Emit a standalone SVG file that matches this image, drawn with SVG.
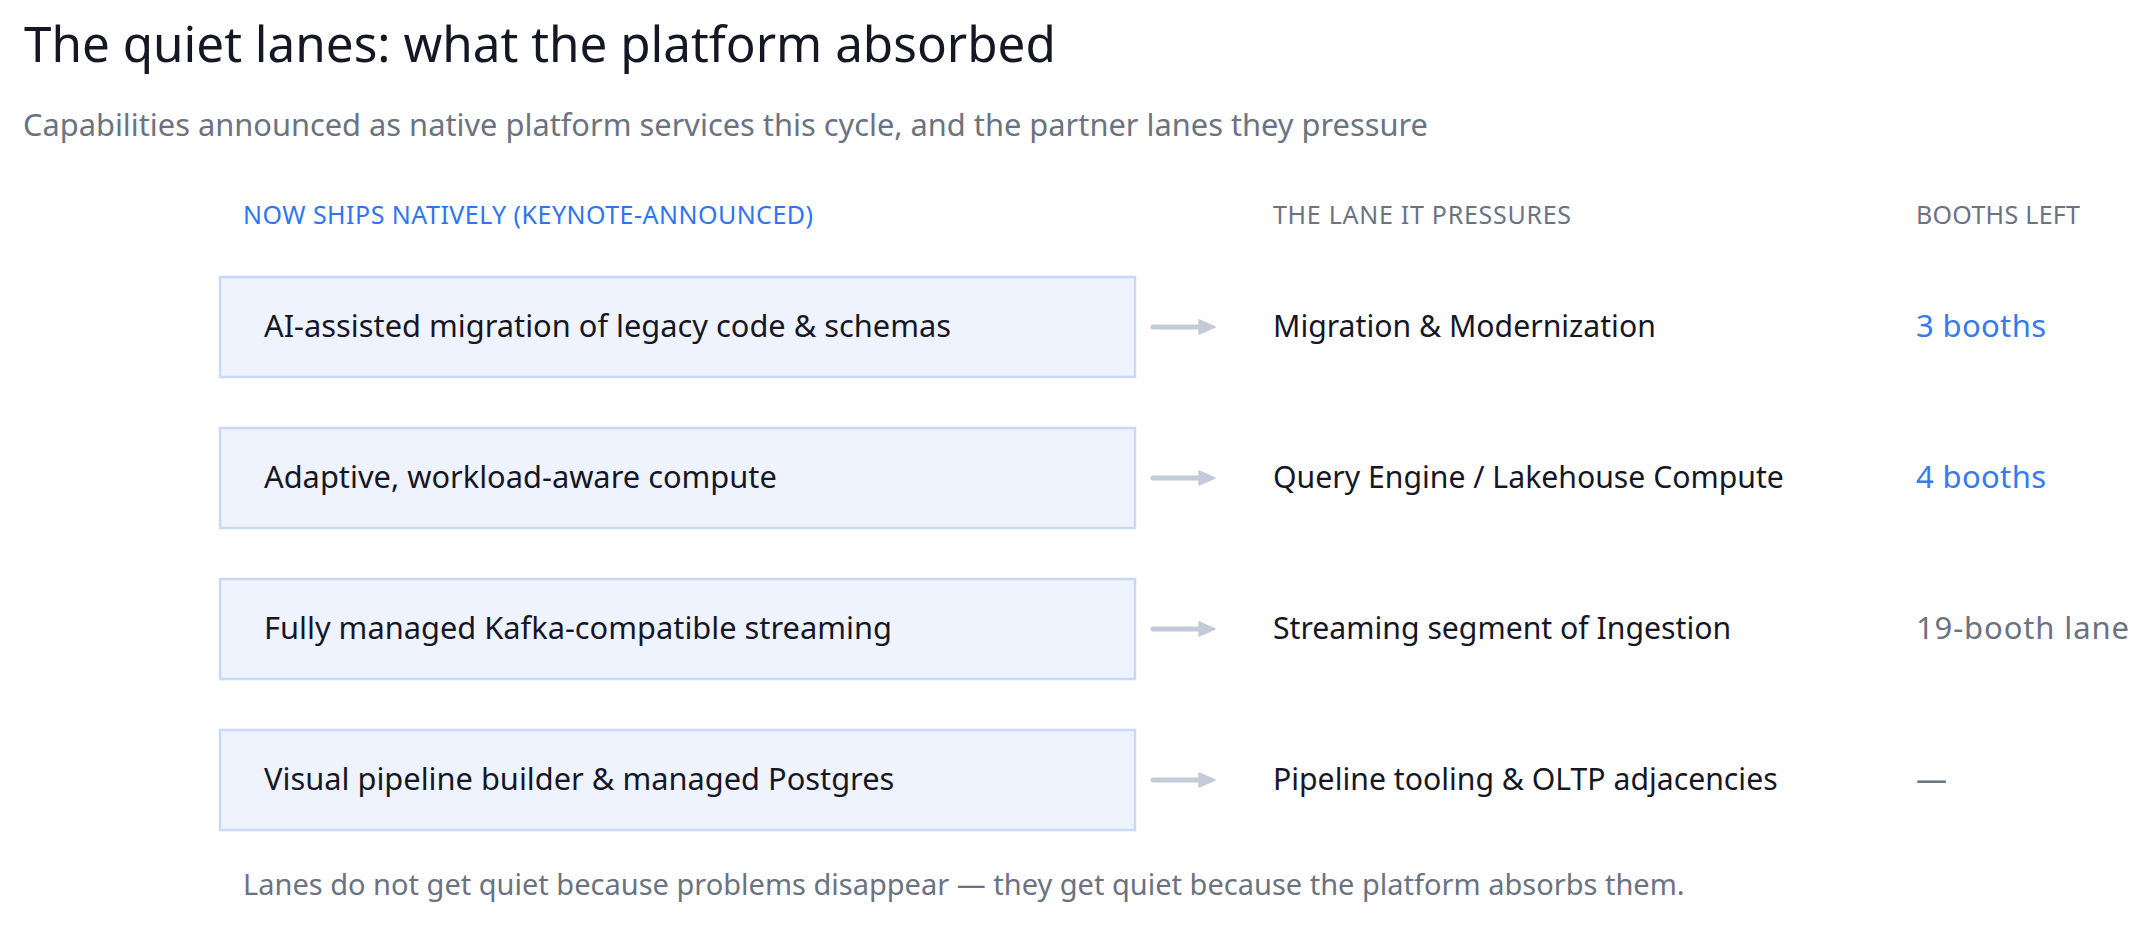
<svg xmlns="http://www.w3.org/2000/svg" width="2151" height="930" viewBox="0 0 2151 930">
<style>
text{font-family:"Noto Sans","Liberation Sans",sans-serif}
.title{font-size:49.4px;fill:#161625}
.sub{font-size:30.8px;fill:#6b7280}
.hdr{font-size:25px;fill:#6b7280}
.hdrb{font-size:25px;fill:#2f74f0}
.box{fill:#eef3fe;stroke:#c8d8f8;stroke-width:2.5}
.lbl{font-size:30.8px;fill:#161625}
.mid{font-size:30.2px;fill:#161625}
.blue{font-size:31px;fill:#3679f0}
.gray{font-size:31px;fill:#6b7280}
.arrow{stroke:#c3cad8;stroke-width:5;stroke-linecap:round;fill:none}
.foot{font-size:29px;fill:#6b7280}
</style>
<defs>
<marker id="ah" viewBox="0 0 18 16" refX="2" refY="8" markerWidth="18" markerHeight="16" markerUnits="userSpaceOnUse" orient="auto">
<path d="M1,1 L17,8 L1,15 Z" fill="#c3cad8" stroke="#c3cad8" stroke-width="1.5" stroke-linejoin="round"/>
</marker>
</defs>
<rect width="2151" height="930" fill="#ffffff"/>
<g id="header">
<text class="title" x="24" y="62">The quiet lanes: what the platform absorbed</text>
<text class="sub" x="23" y="136">Capabilities announced as native platform services this cycle, and the partner lanes they pressure</text>
<text class="hdrb" x="243" y="224" textLength="570" lengthAdjust="spacing">NOW SHIPS NATIVELY (KEYNOTE-ANNOUNCED)</text>
<text class="hdr" x="1273" y="224" textLength="298" lengthAdjust="spacing">THE LANE IT PRESSURES</text>
<text class="hdr" x="1916" y="224" textLength="164" lengthAdjust="spacing">BOOTHS LEFT</text>
</g>
<g id="node-1">
<rect class="box" x="220" y="277" width="915" height="100"/>
<text class="lbl" x="264" y="337">AI-assisted migration of legacy code &amp; schemas</text>
<text class="mid" x="1273" y="337">Migration &amp; Modernization</text>
<text class="blue" x="1916" y="337" textLength="130" lengthAdjust="spacing">3 booths</text>
</g>
<g id="node-2">
<rect class="box" x="220" y="428" width="915" height="100"/>
<text class="lbl" x="264" y="488">Adaptive, workload-aware compute</text>
<text class="mid" x="1273" y="488">Query Engine / Lakehouse Compute</text>
<text class="blue" x="1916" y="488" textLength="130" lengthAdjust="spacing">4 booths</text>
</g>
<g id="node-3">
<rect class="box" x="220" y="579" width="915" height="100"/>
<text class="lbl" x="264" y="639">Fully managed Kafka-compatible streaming</text>
<text class="mid" x="1273" y="639">Streaming segment of Ingestion</text>
<text class="gray" x="1916" y="639" textLength="213" lengthAdjust="spacing">19-booth lane</text>
</g>
<g id="node-4">
<rect class="box" x="220" y="730" width="915" height="100"/>
<text class="lbl" x="264" y="790">Visual pipeline builder &amp; managed Postgres</text>
<text class="mid" x="1273" y="790">Pipeline tooling &amp; OLTP adjacencies</text>
<text class="gray" x="1916" y="790">—</text>
</g>
<g id="connectors">
<line class="arrow" x1="1153" y1="327" x2="1200" y2="327" marker-end="url(#ah)"/>
<line class="arrow" x1="1153" y1="478" x2="1200" y2="478" marker-end="url(#ah)"/>
<line class="arrow" x1="1153" y1="629" x2="1200" y2="629" marker-end="url(#ah)"/>
<line class="arrow" x1="1153" y1="780" x2="1200" y2="780" marker-end="url(#ah)"/>
</g>
<g id="footer">
<text class="foot" x="243" y="895">Lanes do not get quiet because problems disappear — they get quiet because the platform absorbs them.</text>
</g>
</svg>
